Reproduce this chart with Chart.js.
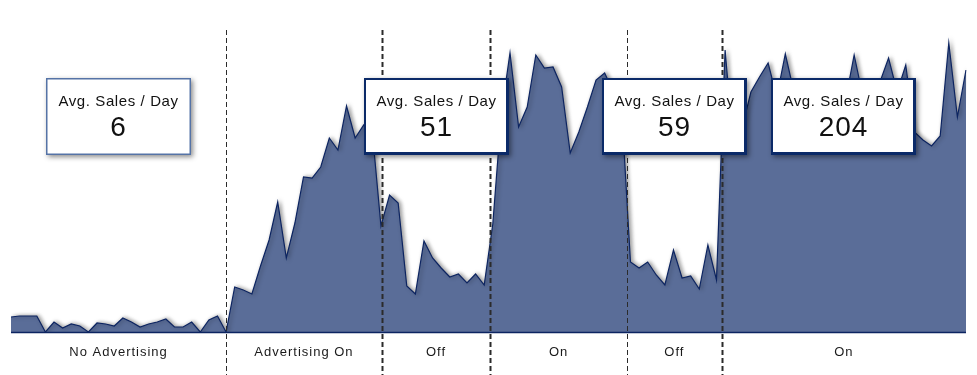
<!DOCTYPE html>
<html>
<head>
<meta charset="utf-8">
<script src="https://cdn.jsdelivr.net/npm/chart.js@4"></script>
<style>
    body { margin: 0; background: #fff; }
    canvas { display: block; }
</style>
</head>
<body>
<canvas id="chart" width="977" height="375"></canvas>
<script>
// daily sales
const sales = [
    15, 16, 16, 16, 0, 10, 4, 8, 6, 0,
    9, 8, 6, 14, 10, 5, 8, 10, 13, 5,
    5, 10, 0, 12, 16, 0, 45, 42, 38, 66,
    92, 130, 74, 109, 155, 154, 165, 194, 182, 226,
    194, 207, 200, 106, 137, 129, 46, 38, 91, 74,
    64, 55, 58, 49, 58, 47, 108, 219, 279, 205,
    225, 277, 264, 265, 245, 179, 200, 225, 252, 259,
    240, 220, 70, 64, 70, 57, 47, 82, 54, 56,
    43, 87, 52, 282, 182, 205, 240, 255, 269, 235,
    278, 240, 230, 245, 238, 225, 240, 232, 277, 236,
    228, 250, 274, 240, 267, 200, 192, 186, 196, 289,
    215, 262
];
const days = sales.map((v, i) => i + 1);

// periods (boundaries are day indexes) and the averages shown in the boxes
const sectionLabels = ['No Advertising', 'Advertising On', 'Off', 'On', 'Off', 'On'];
const sectionBounds = [0, 25, 43.1, 55.7, 71.6, 82.6, 111];
const dividerWidths = [1, 2, 2, 1, 2];
const sectionAvg = [6, null, 51, null, 59, 204];

const FONT = '"Liberation Sans", Arial, sans-serif';

function drawBox(ctx, cx, value, light) {
    const w = 145, h = 77;
    const x = Math.round(cx - w / 2), y = 78;

    ctx.save();
    ctx.shadowColor = 'rgba(0, 0, 0, 0.45)';
    ctx.shadowBlur = 5;
    ctx.shadowOffsetX = 2;
    ctx.shadowOffsetY = 2;
    if (light) {
        ctx.fillStyle = '#ffffff';
        ctx.fillRect(x, y, w, h);
        ctx.restore();
        ctx.strokeStyle = '#5573a6';
        ctx.lineWidth = 1.5;
        ctx.strokeRect(x + 0.75, y + 0.75, w - 1.5, h - 1.5);
    } else {
        ctx.fillStyle = '#0b2a68';
        ctx.fillRect(x, y, w, h);
        ctx.restore();
        ctx.fillStyle = '#ffffff';
        ctx.fillRect(x + 2, y + 2, w - 5, h - 5);
    }

    ctx.fillStyle = '#111';
    ctx.textAlign = 'center';
    ctx.textBaseline = 'alphabetic';
    ctx.font = '15px ' + FONT;
    ctx.letterSpacing = '0.6px';
    ctx.fillText('Avg. Sales / Day', x + w / 2, y + 28);
    ctx.font = '28px ' + FONT;
    ctx.letterSpacing = '1px';
    ctx.fillText(String(value), x + w / 2, y + 58);
    ctx.letterSpacing = '0px';
}

const decorations = {
    id: 'decorations',
    beforeDatasetsDraw(chart) {
        const ctx = chart.ctx;
        ctx.save();
        ctx.shadowColor = 'rgba(0, 0, 0, 0.4)';
        ctx.shadowBlur = 4;
        ctx.shadowOffsetX = 2;
        ctx.shadowOffsetY = 0;
    },
    afterDatasetsDraw(chart) {
        const ctx = chart.ctx;
        ctx.restore();

        const xs = chart.scales.x;
        const area = chart.chartArea;

        // baseline
        ctx.save();
        ctx.strokeStyle = '#0c2461';
        ctx.lineWidth = 1.5;
        ctx.beginPath();
        ctx.moveTo(area.left, area.bottom + 0.5);
        ctx.lineTo(area.right, area.bottom + 0.5);
        ctx.stroke();

        // dashed dividers between periods
        ctx.strokeStyle = '#2b2b2b';
        ctx.setLineDash([5, 3]);
        for (let i = 1; i < sectionBounds.length - 1; i++) {
            const px = Math.round(xs.getPixelForValue(sectionBounds[i])) + 0.5;
            ctx.lineWidth = dividerWidths[i - 1];
            ctx.beginPath();
            ctx.moveTo(px, 30);
            ctx.lineTo(px, chart.height);
            ctx.stroke();
        }
        ctx.setLineDash([]);

        // period labels
        ctx.fillStyle = '#1a1a1a';
        ctx.font = '13px ' + FONT;
        ctx.letterSpacing = '1px';
        ctx.textAlign = 'center';
        ctx.textBaseline = 'alphabetic';
        for (let i = 0; i < sectionLabels.length; i++) {
            const a = xs.getPixelForValue(sectionBounds[i]);
            const b = xs.getPixelForValue(sectionBounds[i + 1]);
            ctx.fillText(sectionLabels[i], (a + b) / 2, 356);
        }
        ctx.letterSpacing = '0px';

        // average boxes
        for (let i = 0; i < sectionAvg.length; i++) {
            if (sectionAvg[i] === null) continue;
            const a = xs.getPixelForValue(sectionBounds[i]);
            const b = xs.getPixelForValue(sectionBounds[i + 1]);
            drawBox(ctx, (a + b) / 2, sectionAvg[i], i === 0);
        }
        ctx.restore();
    }
};

new Chart(document.getElementById('chart'), {
    type: 'line',
    data: {
        labels: days,
        datasets: [{
            data: sales,
            fill: 'origin',
            backgroundColor: '#5a6d98',
            borderColor: '#0c2461',
            borderWidth: 1.2,
            pointRadius: 0,
            tension: 0
        }]
    },
    options: {
        responsive: false,
        animation: false,
        layout: { padding: { left: 11, right: 11, top: 32, bottom: 43 } },
        scales: {
            x: { display: false },
            y: { display: false, min: 0, max: 300 }
        },
        plugins: {
            legend: { display: false },
            tooltip: { enabled: false }
        }
    },
    plugins: [decorations]
});
</script>
</body>
</html>
